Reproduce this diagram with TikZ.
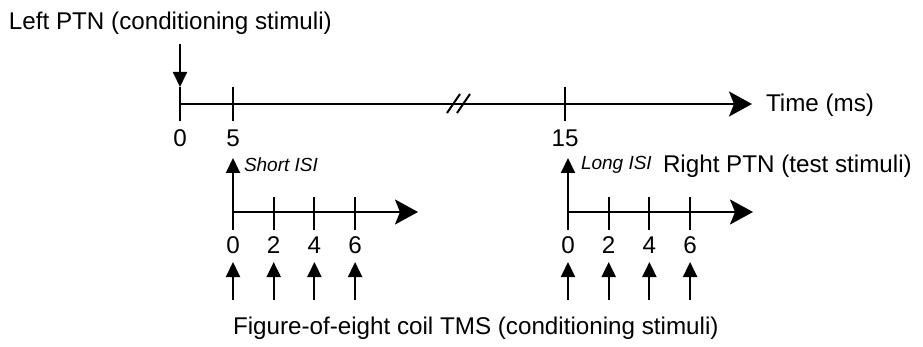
\documentclass[tikz,border=0pt]{standalone}
\usepackage{fontspec}
\setmainfont{Liberation Sans}
\usepackage{tikz}
\usetikzlibrary{arrows.meta}
\usetikzlibrary{positioning}

\begin{document}
\begin{tikzpicture}[
  x=1pt,y=-1pt,line width=2pt,
  lbl/.style={inner sep=0pt,font=\fontsize{24.2}{29}\selectfont},
  isi/.style={inner sep=0pt,font=\fontsize{19}{23}\selectfont\itshape},
  big/.style={-{Stealth[length=23pt,width=25pt,inset=5pt]}},
  stim/.style={-{Triangle[length=15pt,width=14pt]}}]
\useasboundingbox (0,0) rectangle (923,347);
% main time axis
\coordinate (t0) at (180,104);
\coordinate (tend) at (752,104);
\draw[big] (t0) -- (tend);
\node[lbl,anchor=base west] (time) at (765,112) {Time (ms)};
\foreach \x/\n in {180/0,233/5,565/15}{
  \coordinate (tk\n) at (\x,87);
  \draw (tk\n) -- (\x,121);
  \node[lbl,anchor=base] (m\n) at (\x,147) {\n};}
% axis break
\draw (447,113) -- (460,94);
\draw (457,113) -- (470,94);
% left PTN
\node[lbl,anchor=base west] (lptn) at (8,30) {Left PTN (conditioning stimuli)};
\coordinate (lp) at (180,44);
\draw[stim] (lp) -- (tk0);
% short and long ISI axes
\foreach \ox/\nm in {233/s,568/l}{
  \coordinate (\nm o) at (\ox,230);
  \coordinate (\nm top) at (\ox,158);
  \draw[stim] (\nm o) -- (\nm top);
  \draw[big] (\ox,212) -- (\ox+185,212);
  \foreach \i in {0,...,3}{
    \pgfmathtruncatemacro\v{2*\i}
    \coordinate (\nm t\i) at (\ox+40.7*\i,197);
    \ifnum\i>0 \draw (\nm t\i) -- (\ox+40.7*\i,230); \fi
    \node[lbl,anchor=base] (\nm n\i) at (\ox+40.7*\i,254) {\v};
    \coordinate (\nm a\i) at (\ox+40.7*\i,300);
    \draw[stim] (\nm a\i) -- (\ox+40.7*\i,262);}}
\node[isi,anchor=base west] (short) at (243,172) {Short ISI};
\node[isi,anchor=base west] (long) at (580,170) {Long ISI};
\node[lbl,anchor=base west] (rptn) at (662,173) {Right PTN (test stimuli)};
\node[lbl,anchor=base west] (tms) at (232,334) {Figure-of-eight coil TMS (conditioning stimuli)};
\end{tikzpicture}
\end{document}
